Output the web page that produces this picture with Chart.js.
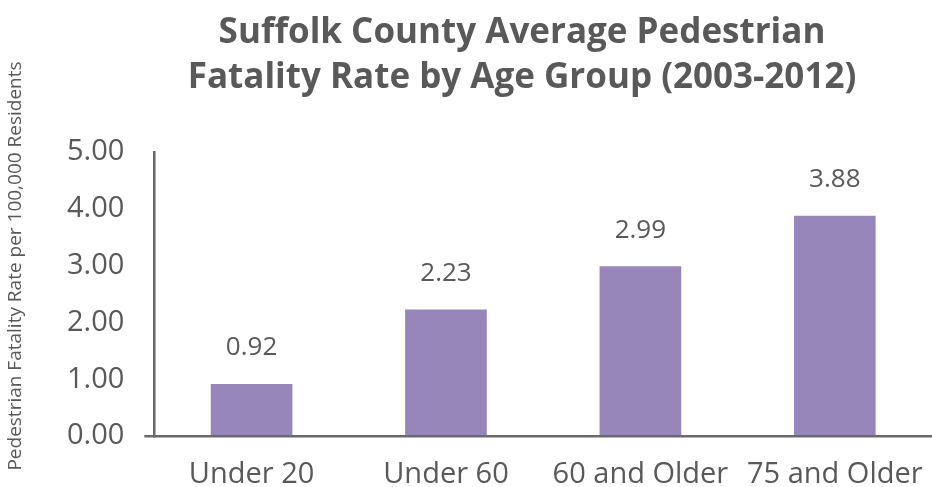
<!DOCTYPE html>
<html>
<head>
<meta charset="utf-8">
<script src="https://cdn.jsdelivr.net/npm/chart.js@4/dist/chart.umd.min.js"></script>
<style>
  html, body { margin: 0; padding: 0; background: #fff; }
  #wrap { width: 932px; height: 487px; }
</style>
</head>
<body>
<div id="wrap"><canvas id="myChart"></canvas></div>
<script>
var categories = ["Under 20", "Under 60", "60 and Older", "75 and Older"];
var rates = [0.92, 2.23, 2.99, 3.88];
var yTicks = [0, 1, 2, 3, 4, 5];
var titleLines = ["Suffolk County Average Pedestrian", "Fatality Rate by Age Group (2003-2012)"];
var yTitle = "Pedestrian Fatality Rate per 100,000 Residents";

var textColor = "#595959";
var fontName = "'Open Sans', 'Noto Sans', sans-serif";

// titles drawn by hand so they sit where the original has them
var titlePlugin = {
  id: 'titles',
  afterDraw: function(chart) {
    var ctx = chart.ctx;
    ctx.save();
    ctx.fillStyle = textColor;
    ctx.textAlign = 'center';
    ctx.textBaseline = 'alphabetic';
    ctx.font = "bold 35px " + fontName;
    ctx.fillText(titleLines[0], 522, 43);
    ctx.fillText(titleLines[1], 522, 88);
    ctx.textBaseline = 'middle';
    ctx.font = "19px " + fontName;
    ctx.translate(16, 266);
    ctx.rotate(-Math.PI / 2);
    ctx.fillText(yTitle, 0, 0);
    ctx.restore();
  }
};

// value labels above bars
var valuePlugin = {
  id: 'values',
  afterDatasetsDraw: function(chart) {
    var ctx = chart.ctx;
    var meta = chart.getDatasetMeta(0);
    ctx.save();
    ctx.fillStyle = textColor;
    ctx.textAlign = 'center';
    ctx.textBaseline = 'middle';
    ctx.font = "26px " + fontName;
    meta.data.forEach(function(bar, i) {
      ctx.fillText(rates[i].toFixed(2), bar.x, bar.y - 36);
    });
    ctx.restore();
  }
};

var ctx = document.getElementById("myChart");
var myChart = new Chart(ctx, {
  type: 'bar',
  data: {
    labels: categories,
    datasets: [{
      label: 'Rate',
      data: rates,
      backgroundColor: '#9686b9',
      borderWidth: 0,
      categoryPercentage: 1,
      barPercentage: 0.42
    }]
  },
  options: {
    responsive: true,
    maintainAspectRatio: false,
    animation: false,
    layout: { padding: { top: 152, left: 47, right: 0, bottom: -26 } },
    plugins: {
      legend: { display: false },
      tooltip: { enabled: false },
      title: { display: false }
    },
    scales: {
      x: {
        afterFit: function(axis) {
          // last label fits inside its category, no extra room needed
          axis.paddingRight = 0;
        },
        grid: { display: false, drawTicks: false },
        border: { display: true, color: '#6a6a6a', width: 2.5 },
        ticks: { color: textColor, font: { family: fontName, size: 29 }, padding: 21 }
      },
      y: {
        min: 0,
        max: 5,
        afterBuildTicks: function(axis) {
          axis.ticks = yTicks.map(function(v) { return { value: v }; });
        },
        grid: {
          drawOnChartArea: false,
          tickLength: 10,
          lineWidth: 2.5,
          color: function(c) { return c.tick && c.tick.value === 0 ? '#6a6a6a' : 'rgba(0,0,0,0)'; }
        },
        border: { display: true, color: '#6a6a6a', width: 2.5 },
        ticks: {
          color: textColor,
          font: { family: fontName, size: 29 },
          padding: 20,
          callback: function(v) { return Number(v).toFixed(2); }
        }
      }
    }
  },
  plugins: [titlePlugin, valuePlugin]
});
</script>
</body>
</html>
